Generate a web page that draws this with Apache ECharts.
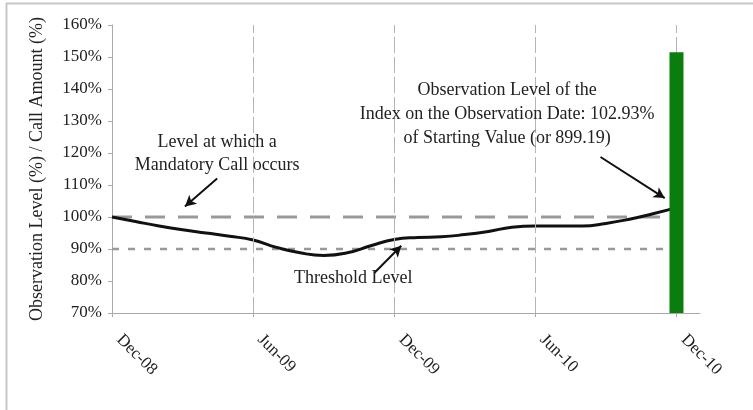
<!DOCTYPE html>
<html>
<head>
<meta charset="utf-8">
<script src="https://cdn.jsdelivr.net/npm/echarts@6/dist/echarts.min.js"></script>
<style>
html,body{margin:0;padding:0;background:#fff;}
#c{width:753px;height:410px;}
</style>
</head>
<body>
<div id="c"></div>
<script>
// ---- data ----
var months = [0,1,2,3,4,5,6,7,8,9,10,11,12,13,14,15,16,17,18,19,20,21,22,23,24];
var observationLevel = [100,98.6,97.2,96.0,95.0,94.0,92.8,90.5,88.8,88.0,88.8,91.0,93.0,93.6,93.8,94.5,95.5,96.8,97.2,97.2,97.2,98.0,99.3,101.0,102.93];
var tickMonths = [0,6,12,18,24];
var tickLabels = ['Dec-08','Jun-09','Dec-09','Jun-10','Dec-10'];
var callAmountMonth = [24];
var callAmount = [151.5];
var mandatoryCallLevel = 100;
var thresholdLevel = 90;
var levelLineEnd = 23.5;

// annotations in data coordinates [month, level]
var annotations = [
  {lines:['Level at which a','Mandatory Call occurs'], at:[4.47,123.4], lineStep:7.2, arrowFrom:[4.47,112.0], arrowTo:[3.1,103.3]},
  {lines:['Threshold Level'], at:[10.26,80.9], lineStep:0, arrowFrom:[11.15,82.5], arrowTo:[12.3,91.0]},
  {lines:['Observation Level of the','Index on the Observation Date: 102.93%','of Starting Value (or 899.19)'], at:[16.8,139.7], lineStep:7.5, arrowFrom:[20.77,118.75], arrowTo:[23.5,105.9]}
];

var FONT = 'Liberation Serif';
var TXT = '#222';

var chart = echarts.init(document.getElementById('c'), null, {renderer:'canvas'});

function pairs(xs, ys){ return xs.map(function(x,i){return [x, ys[i]];}); }

var option = {
  animation:false,
  backgroundColor:'#fff',
  grid:{left:112, right:53, top:25, bottom:97, containLabel:false},
  xAxis:{
    type:'value', min:0, max:25, interval:6,
    axisLine:{show:true, lineStyle:{color:'#aaa', width:1}},
    axisTick:{show:true, length:4, lineStyle:{color:'#aaa'}, customValues: tickMonths},
    axisLabel:{show:true, rotate:-45, margin:17, padding:[0,0,0,10], color:TXT, fontFamily:FONT, fontSize:17,
      customValues: tickMonths,
      formatter:function(v){ var i = tickMonths.indexOf(v); return i>=0 ? tickLabels[i] : ''; }},
    splitLine:{show:false}
  },
  yAxis:{
    type:'value', min:70, max:160, interval:10,
    name:'Observation Level (%) / Call Amount (%)',
    nameLocation:'middle', nameGap:66,
    nameTextStyle:{color:TXT, fontFamily:FONT, fontSize:18},
    axisLine:{show:true, lineStyle:{color:'#aaa', width:1}},
    axisTick:{show:true, length:4, inside:false, lineStyle:{color:'#aaa'}},
    axisLabel:{color:TXT, fontFamily:FONT, fontSize:17, margin:10, formatter:'{value}%'},
    splitLine:{show:false}
  },
  series:[
    { // vertical grid lines
      type:'line', data:[], z:1, silent:true,
      markLine:{silent:true, symbol:['none','none'], label:{show:false},
        lineStyle:{color:'#b5b5b5', width:1, type:[16,4]},
        data: tickMonths.slice(1).map(function(m){return {xAxis:m};})}
    },
    { // mandatory call level
      type:'line', z:2, silent:true, showSymbol:false,
      data:[[0,mandatoryCallLevel],[levelLineEnd,mandatoryCallLevel]],
      lineStyle:{color:'#999', width:3, type:[20,13]}
    },
    { // threshold
      type:'line', z:2, silent:true, showSymbol:false,
      data:[[0,thresholdLevel],[levelLineEnd+0.2,thresholdLevel]],
      lineStyle:{color:'#999', width:2.5, type:[7,9]}
    },
    { // index
      type:'line', z:4, smooth:0.5, showSymbol:false,
      data: pairs(months, observationLevel),
      lineStyle:{color:'#111', width:3}
    },
    { // call amount bar
      type:'bar', z:5, barWidth:14,
      data: pairs(callAmountMonth, callAmount),
      itemStyle:{color:'#0a7d0e'}
    },
    { // arrows
      type:'line', data:[], z:6, silent:true,
      markLine:{silent:true, symbol:['none','arrow'], symbolSize:[9,11], label:{show:false},
        lineStyle:{color:'#111', width:2, type:'solid'},
        data: annotations.map(function(a){ return [{coord:a.arrowFrom},{coord:a.arrowTo}]; })}
    }
  ]
};
chart.setOption(option);

// annotation text placed through the chart's own coordinate conversion
var g = [];
annotations.forEach(function(a){
  a.lines.forEach(function(t, i){
    var p = chart.convertToPixel({gridIndex:0}, [a.at[0], a.at[1] - i*a.lineStep]);
    g.push({type:'text', x:p[0], y:p[1], z:100,
      style:{text:t, fill:TXT, font:'18px "'+FONT+'"', align:'center', verticalAlign:'middle'}});
  });
});
// image frame (left and top edges)
g.push({type:'line', shape:{x1:6.5,y1:3,x2:6.5,y2:410}, style:{stroke:'#c8c8c8', lineWidth:2}});
g.push({type:'line', shape:{x1:6,y1:3.5,x2:753,y2:3.5}, style:{stroke:'#c8c8c8', lineWidth:2}});
chart.setOption({graphic:g});
</script>
</body>
</html>
